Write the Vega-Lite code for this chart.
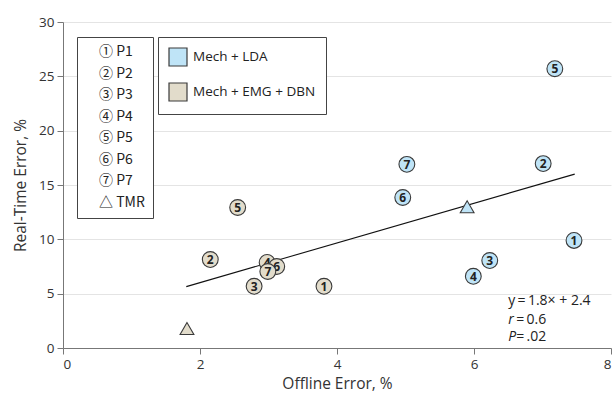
{
  "$schema": "https://vega.github.io/schema/vega-lite/v6.json",
  "width": 548,
  "height": 326,
  "autosize": {"type": "none"},
  "padding": {"left": 63, "top": 22, "right": 1, "bottom": 50},
  "background": "white",
  "config": {
    "font": "Open Sans",
    "view": {"stroke": null},
    "axis": {
      "labelFontSize": 13.5, "labelColor": "#333", "titleFontSize": 15.5, "titleFontWeight": "normal", "titleColor": "#333",
      "domainColor": "#777", "tickColor": "#777", "gridColor": "#e4e4e4", "tickSize": 6
    },
    "legend": {"labelFont": "Open Sans", "labelFontSize": 13, "labelColor": "#222"}
  },
  "datasets": {
    "pts": [
      {"method": "Mech + LDA", "pid": "P1", "n": "1", "x": 7.46, "y": 9.9},
      {"method": "Mech + LDA", "pid": "P2", "n": "2", "x": 7.01, "y": 16.97},
      {"method": "Mech + LDA", "pid": "P3", "n": "3", "x": 6.23, "y": 8.05},
      {"method": "Mech + LDA", "pid": "P4", "n": "4", "x": 5.99, "y": 6.6},
      {"method": "Mech + LDA", "pid": "P5", "n": "5", "x": 7.18, "y": 25.7},
      {"method": "Mech + LDA", "pid": "P6", "n": "6", "x": 4.96, "y": 13.85},
      {"method": "Mech + LDA", "pid": "P7", "n": "7", "x": 5.02, "y": 16.9},
      {"method": "Mech + LDA", "pid": "TMR", "n": "", "x": 5.9, "y": 13.0},
      {"method": "Mech + EMG + DBN", "pid": "P1", "n": "1", "x": 3.81, "y": 5.68},
      {"method": "Mech + EMG + DBN", "pid": "P2", "n": "2", "x": 2.15, "y": 8.14},
      {"method": "Mech + EMG + DBN", "pid": "P3", "n": "3", "x": 2.79, "y": 5.68},
      {"method": "Mech + EMG + DBN", "pid": "P4", "n": "4", "x": 2.98, "y": 7.87},
      {"method": "Mech + EMG + DBN", "pid": "P5", "n": "5", "x": 2.55, "y": 12.93},
      {"method": "Mech + EMG + DBN", "pid": "P6", "n": "6", "x": 3.12, "y": 7.5},
      {"method": "Mech + EMG + DBN", "pid": "P7", "n": "7", "x": 2.99, "y": 7.04},
      {"method": "Mech + EMG + DBN", "pid": "TMR", "n": "", "x": 1.81, "y": 1.79}
    ],
    "fit": [
      {"x": 1.8, "y": 5.65},
      {"x": 7.47, "y": 16.0}
    ],
    "stats": [
      {"x": 6.5, "y": 4.3, "a": "", "b": "y\u2009=\u20091.8\u00d7 + 2.4"},
      {"x": 6.5, "y": 2.62, "a": "r", "b": "=\u20090.6"},
      {"x": 6.5, "y": 0.97, "a": "P", "b": "=\u2009.02"}
    ]
  },
  "layer": [
    {
      "data": {"name": "fit"},
      "mark": {"type": "line", "color": "#111", "strokeWidth": 1.1},
      "encoding": {
        "x": {"field": "x", "type": "quantitative", "scale": {"domain": [0, 8], "nice": false},
          "axis": {"values": [0, 2, 4, 6, 8], "format": "d", "grid": false, "title": "Offline Error, %", "labelPadding": 3, "titlePadding": 6}},
        "y": {"field": "y", "type": "quantitative", "scale": {"domain": [0, 30], "nice": false},
          "axis": {"values": [0, 5, 10, 15, 20, 25, 30], "format": "d", "grid": true, "title": "Real-Time Error, %", "labelPadding": 3, "titlePadding": 10}}
      }
    },
    {
      "data": {"name": "pts"},
      "transform": [{"filter": "!(datum.method == 'Mech + EMG + DBN' && (datum.pid == 'P6' || datum.pid == 'P7'))"}],
      "mark": {"type": "point", "filled": true, "opacity": 1, "stroke": "#3a3a3a", "strokeWidth": 1.1},
      "encoding": {
        "x": {"field": "x", "type": "quantitative"},
        "y": {"field": "y", "type": "quantitative"},
        "size": {"condition": {"test": "datum.pid == 'TMR'", "value": 190}, "value": 250},
        "color": {"field": "method", "type": "nominal",
          "scale": {"domain": ["Mech + LDA", "Mech + EMG + DBN"], "range": ["#bfe4f7", "#e2dccb"]},
          "legend": {"title": null, "orient": "none", "legendX": 95, "legendY": 15, "symbolType": "square", "symbolSize": 324,
            "symbolStrokeColor": "#555", "symbolStrokeWidth": 1.2, "symbolOpacity": 1, "labelFontSize": 13.5, "rowPadding": 11,
            "strokeColor": "#444", "padding": 10, "labelOffset": 5, "fillColor": "white"}},
        "shape": {"field": "pid", "type": "nominal",
          "scale": {"domain": ["P1", "P2", "P3", "P4", "P5", "P6", "P7", "TMR"],
            "range": ["circle", "circle", "circle", "circle", "circle", "circle", "circle", "triangle-up"]},
          "legend": {"title": null, "orient": "none", "legendX": 14, "legendY": 15, "symbolOpacity": 0, "symbolSize": 1,
            "symbolStrokeWidth": 0, "labelOffset": 0, "rowPadding": 7.5, "labelFont": "Noto Sans CJK JP", "labelFontSize": 14, "strokeColor": "#444", "padding": 8, "fillColor": "white",
            "labelExpr": "['\u2460','\u2461','\u2462','\u2463','\u2464','\u2465','\u2466','\u25b3'][indexof(['P1','P2','P3','P4','P5','P6','P7','TMR'], datum.label)] + ' ' + datum.label"}}
      }
    },
    {
      "data": {"name": "pts"},
      "transform": [{"filter": "datum.n != '' && !(datum.method == 'Mech + EMG + DBN' && (datum.pid == 'P6' || datum.pid == 'P7'))"}],
      "mark": {"type": "text", "fontWeight": "bold", "fontSize": 12, "color": "#222", "baseline": "middle", "align": "center", "dy": 0.5},
      "encoding": {
        "x": {"field": "x", "type": "quantitative"},
        "y": {"field": "y", "type": "quantitative"},
        "text": {"field": "n"}
      }
    },
    {
      "data": {"name": "pts"},
      "transform": [{"filter": "datum.method == 'Mech + EMG + DBN' && datum.pid == 'P6'"}],
      "mark": {"type": "point", "filled": true, "opacity": 1, "stroke": "#3a3a3a", "strokeWidth": 1.1, "size": 250},
      "encoding": {
        "x": {"field": "x", "type": "quantitative"},
        "y": {"field": "y", "type": "quantitative"},
        "color": {"field": "method", "type": "nominal"},
        "shape": {"field": "pid", "type": "nominal"}
      }
    },
    {
      "data": {"name": "pts"},
      "transform": [{"filter": "datum.method == 'Mech + EMG + DBN' && datum.pid == 'P6'"}],
      "mark": {"type": "text", "fontWeight": "bold", "fontSize": 12, "color": "#222", "baseline": "middle", "align": "center", "dy": 0.5},
      "encoding": {
        "x": {"field": "x", "type": "quantitative"},
        "y": {"field": "y", "type": "quantitative"},
        "text": {"field": "n"}
      }
    },
    {
      "data": {"name": "pts"},
      "transform": [{"filter": "datum.method == 'Mech + EMG + DBN' && datum.pid == 'P7'"}],
      "mark": {"type": "point", "filled": true, "opacity": 1, "stroke": "#3a3a3a", "strokeWidth": 1.1, "size": 250},
      "encoding": {
        "x": {"field": "x", "type": "quantitative"},
        "y": {"field": "y", "type": "quantitative"},
        "color": {"field": "method", "type": "nominal"},
        "shape": {"field": "pid", "type": "nominal"}
      }
    },
    {
      "data": {"name": "pts"},
      "transform": [{"filter": "datum.method == 'Mech + EMG + DBN' && datum.pid == 'P7'"}],
      "mark": {"type": "text", "fontWeight": "bold", "fontSize": 12, "color": "#222", "baseline": "middle", "align": "center", "dy": 0.5},
      "encoding": {
        "x": {"field": "x", "type": "quantitative"},
        "y": {"field": "y", "type": "quantitative"},
        "text": {"field": "n"}
      }
    },
    {
      "data": {"name": "stats"},
      "transform": [{"filter": "datum.a != ''"}],
      "mark": {"type": "text", "fontSize": 14, "color": "#222", "align": "left", "baseline": "middle", "fontStyle": "italic"},
      "encoding": {
        "x": {"field": "x", "type": "quantitative"},
        "y": {"field": "y", "type": "quantitative"},
        "text": {"field": "a"}
      }
    },
    {
      "data": {"name": "stats"},
      "transform": [{"filter": "datum.a == ''"}],
      "mark": {"type": "text", "fontSize": 14, "color": "#222", "align": "left", "baseline": "middle"},
      "encoding": {
        "x": {"field": "x", "type": "quantitative"},
        "y": {"field": "y", "type": "quantitative"},
        "text": {"field": "b"}
      }
    },
    {
      "data": {"name": "stats"},
      "transform": [{"filter": "datum.a != ''"}],
      "mark": {"type": "text", "fontSize": 14, "color": "#222", "align": "left", "baseline": "middle", "dx": 8},
      "encoding": {
        "x": {"field": "x", "type": "quantitative"},
        "y": {"field": "y", "type": "quantitative"},
        "text": {"field": "b"}
      }
    }
  ]
}
